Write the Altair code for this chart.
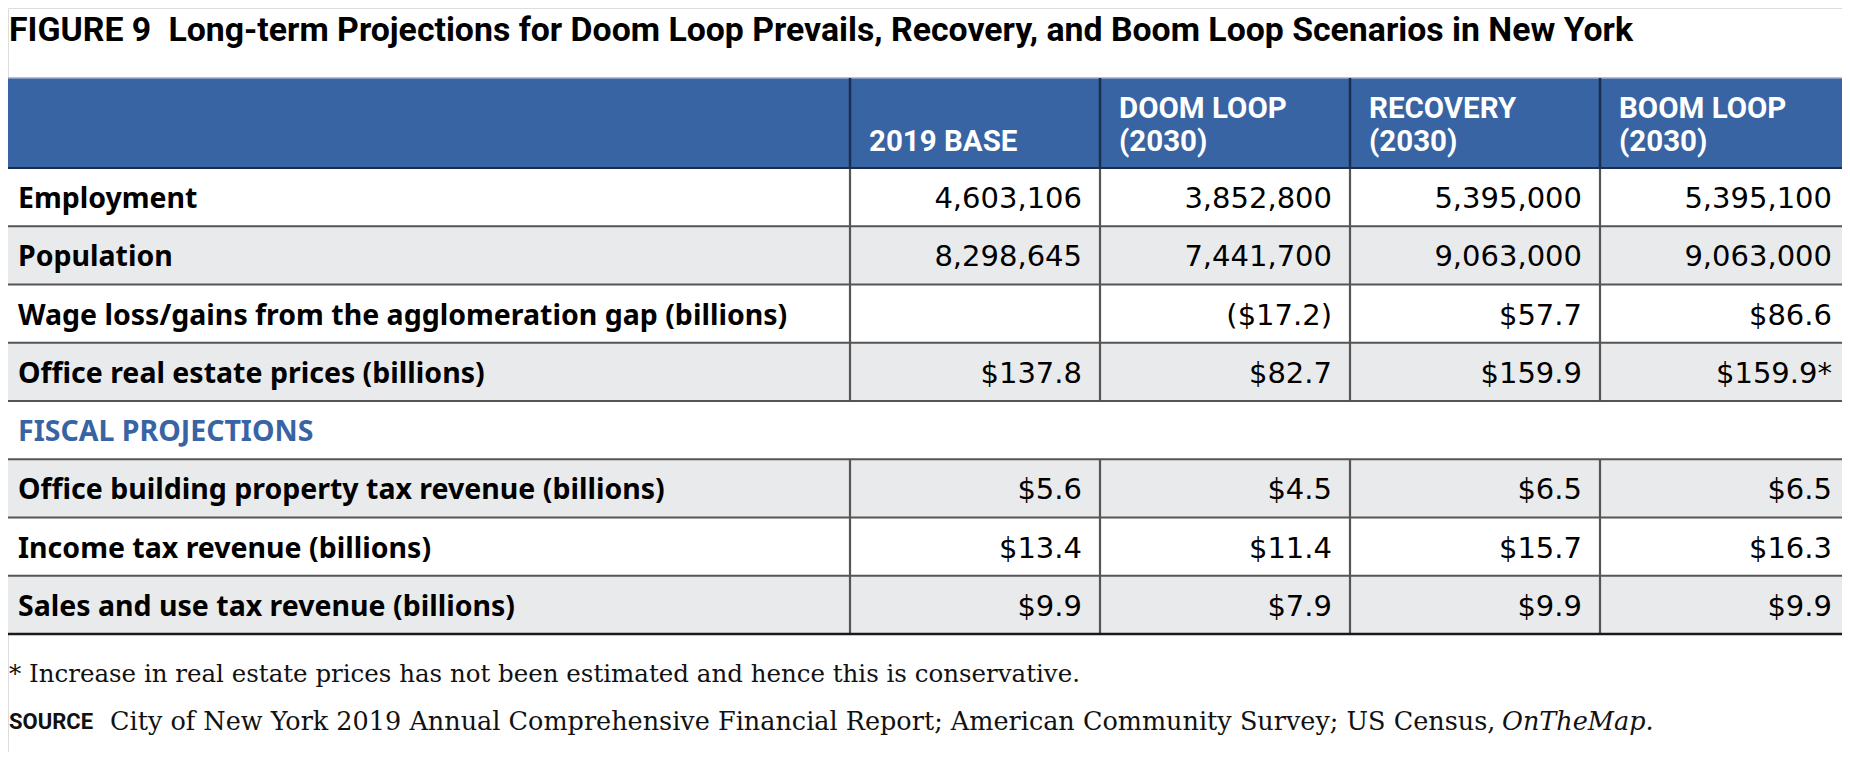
import altair as alt
import pandas as pd

# ---------------- data ----------------
title_text = "FIGURE 9\u2002Long-term Projections for Doom Loop Prevails, Recovery, and Boom Loop Scenarios in New York"
header_lines_1 = ["", "DOOM LOOP", "RECOVERY", "BOOM LOOP"]
header_lines_2 = ["2019 BASE", "(2030)", "(2030)", "(2030)"]

row_labels = [
    "Employment",
    "Population",
    "Wage loss/gains from the agglomeration gap (billions)",
    "Office real estate prices (billions)",
    "FISCAL PROJECTIONS",
    "Office building property tax revenue (billions)",
    "Income tax revenue (billions)",
    "Sales and use tax revenue (billions)",
]
section_row = "FISCAL PROJECTIONS"

base_2019 = ["4,603,106", "8,298,645", "", "$137.8", "", "$5.6", "$13.4", "$9.9"]
doom_loop = ["3,852,800", "7,441,700", "($17.2)", "$82.7", "", "$4.5", "$11.4", "$7.9"]
recovery = ["5,395,000", "9,063,000", "$57.7", "$159.9", "", "$6.5", "$15.7", "$9.9"]
boom_loop = ["5,395,100", "9,063,000", "$86.6", "$159.9*", "", "$6.5", "$16.3", "$9.9"]
value_columns = [base_2019, doom_loop, recovery, boom_loop]

footnote = "* Increase in real estate prices has not been estimated and hence this is conservative."
source_label = "SOURCE"
source_text = "City of New York 2019 Annual Comprehensive Financial Report; American Community Survey; US Census,"
source_italic = "OnTheMap."

# ---------------- layout ----------------
SANS = "Roboto"
LABEL = "Noto Sans"
NUM = "DejaVu Sans"
SERIF = "DejaVu Serif"
BLUE = "#3864a3"
NAVY = "#1c2c4c"
GREY_LINE = "#555555"
STRIPE = "#e9eaec"

TABLE_L, TABLE_R = 0, 1850
COL_EDGES = [850, 1100, 1350, 1600, 1850]
HEAD_TOP, HEAD_BOT = 78, 168
ROW_H = 58.25
PAD = 18
LEFT = 9
TXT_DY = 2

xs = alt.Scale(domain=[8, 1842], nice=False, zero=False)
ys = alt.Scale(domain=[8, 752], nice=False, zero=False, reverse=True)


def X(f):
    return alt.X(f, type="quantitative", scale=xs, axis=None)


def Y(f):
    return alt.Y(f, type="quantitative", scale=ys, axis=None)


n = len(row_labels)
tops = [HEAD_BOT + i * ROW_H for i in range(n)]
sec_i = row_labels.index(section_row)

# row backgrounds
bg = pd.DataFrame({
    "x": [TABLE_L] * n, "x2": [TABLE_R] * n,
    "y": tops, "y2": [t + ROW_H for t in tops],
    "stripe": [i % 2 for i in range(n)],
})
bg_layer = alt.Chart(bg).mark_rect().encode(
    x=X("x"), x2="x2", y=Y("y"), y2="y2",
    color=alt.condition(alt.datum.stripe == 1, alt.value(STRIPE), alt.value("#ffffff")),
)

# header band
hd = pd.DataFrame({"x": [TABLE_L], "x2": [TABLE_R], "y": [HEAD_TOP], "y2": [HEAD_BOT]})
head_layer = alt.Chart(hd).mark_rect(color=BLUE).encode(x=X("x"), x2="x2", y=Y("y"), y2="y2")
head_top_line = alt.Chart(hd).mark_rule(color="#9aaccb", strokeWidth=1.5).encode(x=X("x"), x2="x2", y=Y("y"))

# horizontal lines
hlines = pd.DataFrame({"y": [t + ROW_H for t in tops[:-1]], "x": TABLE_L, "x2": TABLE_R})
hline_layer = alt.Chart(hlines).mark_rule(color=GREY_LINE, strokeWidth=2.2).encode(x=X("x"), x2="x2", y=Y("y"))
bottom = pd.DataFrame({"y": [tops[-1] + ROW_H], "x": TABLE_L, "x2": TABLE_R})
bottom_layer = alt.Chart(bottom).mark_rule(color="#1a1a1a", strokeWidth=2.5).encode(x=X("x"), x2="x2", y=Y("y"))
head_bot_layer = alt.Chart(pd.DataFrame({"y": [HEAD_BOT], "x": TABLE_L, "x2": TABLE_R})).mark_rule(
    color=NAVY, strokeWidth=2.2).encode(x=X("x"), x2="x2", y=Y("y"))

# vertical dividers
inner_edges = COL_EDGES[:-1]
vh = pd.DataFrame({"x": inner_edges, "y": HEAD_TOP, "y2": HEAD_BOT})
v_head = alt.Chart(vh).mark_rule(color=NAVY, strokeWidth=2.5).encode(x=X("x"), y=Y("y"), y2="y2")
vb_rows = []
for e in inner_edges:
    vb_rows.append({"x": e, "y": HEAD_BOT, "y2": tops[sec_i]})
    vb_rows.append({"x": e, "y": tops[sec_i] + ROW_H, "y2": tops[-1] + ROW_H})
v_body = alt.Chart(pd.DataFrame(vb_rows)).mark_rule(color=GREY_LINE, strokeWidth=2.2).encode(
    x=X("x"), y=Y("y"), y2="y2")

# title
title_layer = alt.Chart(pd.DataFrame({"x": [LEFT], "y": [31], "t": [title_text]})).mark_text(
    align="left", baseline="middle", font=SANS, fontSize=33.8, fontWeight="bold", color="#000000"
).encode(x=X("x"), y=Y("y"), text="t:N")

# header texts
hrows = []
for j in range(4):
    hrows.append({"x": COL_EDGES[j] + 19, "y": 118, "t": header_lines_1[j]})
    hrows.append({"x": COL_EDGES[j] + 19, "y": 151, "t": header_lines_2[j]})
head_text = alt.Chart(pd.DataFrame(hrows)).mark_text(
    align="left", baseline="alphabetic", font=SANS, fontSize=29.5, fontWeight="bold", color="#ffffff"
).encode(x=X("x"), y=Y("y"), text="t:N")

# row labels
lab = pd.DataFrame({
    "x": PAD, "y": [t + ROW_H / 2 + TXT_DY for t in tops], "t": row_labels,
    "sec": [1 if r == section_row else 0 for r in row_labels],
})
label_layer = alt.Chart(lab).mark_text(
    align="left", baseline="middle", font=LABEL, fontSize=28.5, fontWeight="bold"
).encode(
    x=X("x"), y=Y("y"), text="t:N",
    color=alt.condition(alt.datum.sec == 1, alt.value(BLUE), alt.value("#000000")),
)

# values
vrows = []
for j, col in enumerate(value_columns):
    for i, v in enumerate(col):
        vrows.append({"x": COL_EDGES[j + 1] - PAD, "y": tops[i] + ROW_H / 2 + TXT_DY, "t": v})
val_layer = alt.Chart(pd.DataFrame(vrows)).mark_text(
    align="right", baseline="middle", font=NUM, fontSize=29, color="#000000"
).encode(x=X("x"), y=Y("y"), text="t:N")

# footnote & source
fn_layer = alt.Chart(pd.DataFrame({"x": [LEFT], "y": [675], "t": [footnote]})).mark_text(
    align="left", baseline="middle", font=SERIF, fontSize=24.5, color="#111111"
).encode(x=X("x"), y=Y("y"), text="t:N")
src_lab = alt.Chart(pd.DataFrame({"x": [LEFT], "y": [722], "t": [source_label]})).mark_text(
    align="left", baseline="middle", font=SANS, fontSize=22, fontWeight="bold", color="#111111"
).encode(x=X("x"), y=Y("y"), text="t:N")
src_txt = alt.Chart(pd.DataFrame({"x": [110], "y": [722], "t": [source_text]})).mark_text(
    align="left", baseline="middle", font=SERIF, fontSize=25.5, color="#111111"
).encode(x=X("x"), y=Y("y"), text="t:N")
src_it = alt.Chart(pd.DataFrame({"x": [1502], "y": [722], "t": [source_italic]})).mark_text(
    align="left", baseline="middle", font=SERIF, fontSize=25.5, fontStyle="italic", color="#111111"
).encode(x=X("x"), y=Y("y"), text="t:N")

chart = alt.layer(
    bg_layer, head_layer, head_top_line, hline_layer, v_body, v_head, head_bot_layer, bottom_layer,
    title_layer, head_text, label_layer, val_layer, fn_layer, src_lab, src_txt, src_it,
).properties(
    width=1834, height=744, padding=0, autosize=alt.AutoSizeParams(type="none")
).configure_view(stroke=None).configure(background="#ffffff")

chart.save("out.html", embed_options={"renderer": "svg", "actions": False})
